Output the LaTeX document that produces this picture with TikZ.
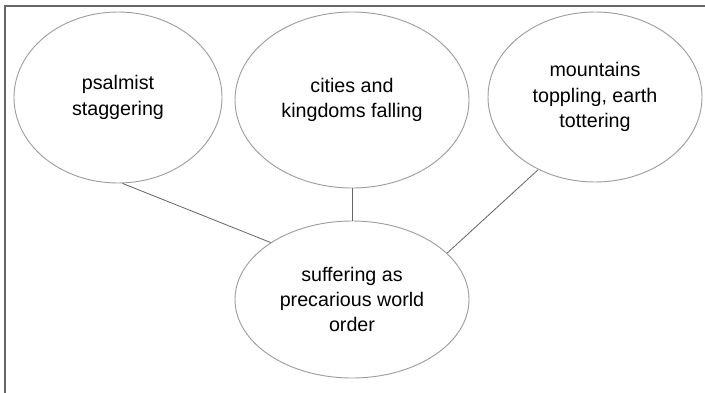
\documentclass[tikz,border=0pt]{standalone}
\usepackage{fontspec}
\setmainfont{Liberation Sans}
\usetikzlibrary{shapes.geometric}

\tikzset{
	bubble/.style={ellipse, draw=black!38, line width=0.8pt, inner sep=0pt, align=center,
		font=\fontsize{16.8}{21.5}\selectfont},
	link/.style={draw=black!60, line width=0.7pt}
}

\begin{document}
\begin{tikzpicture}[x=0.03cm, y=-0.03cm]
		%%%%% START %%%%%
		\useasboundingbox (0, 0) rectangle (705, 392);
		\draw[black!60, line width=1.3pt] (710, 6) -- (5, 6) -- (5, 400);
		
		\node[bubble, minimum width=6.24cm, minimum height=5.13cm] (psalmist) at (118, 97.5) {psalmist\\staggering};
		\node[bubble, minimum width=7.02cm, minimum height=5.28cm] (cities) at (352, 100) {cities and\\kingdoms falling};
		\node[bubble, minimum width=6.42cm, minimum height=5.1cm] (mountains) at (595, 97) {mountains\\toppling, earth\\tottering};
		
		\node[bubble, minimum width=7.02cm, minimum height=4.71cm] (suffering) at (352, 299.5) {suffering as\\precarious world\\order};
		
		\draw[link] (psalmist.273) -- (suffering.145);
		\draw[link] (cities.south) -- (suffering.north);
		\draw[link] (mountains.232) -- (suffering.26);
		%%%%% END %%%%%
	\end{tikzpicture}
\end{document}
